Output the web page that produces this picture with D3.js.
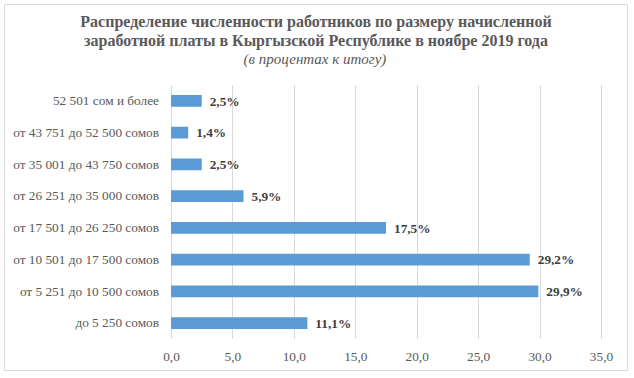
<!DOCTYPE html>
<html>
<head>
<meta charset="utf-8">
<script src="https://cdn.jsdelivr.net/npm/d3@7"></script>
</head>
<body style="margin:0; background:#fff">
<svg id="chart" width="634" height="378"></svg>
<script>
const categories = [
  "52 501 сом и более",
  "от 43 751 до 52 500 сомов",
  "от 35 001 до 43 750 сомов",
  "от 26 251 до 35 000 сомов",
  "от 17 501 до 26 250 сомов",
  "от 10 501 до 17 500 сомов",
  "от 5 251 до 10 500 сомов",
  "до 5 250 сомов"
];
const values = [2.5, 1.4, 2.5, 5.9, 17.5, 29.2, 29.9, 11.1];
const xTicks = [0, 5, 10, 15, 20, 25, 30, 35];
const titleLines = [
  "Распределение численности работников по размеру начисленной",
  "заработной платы в Кыргызской Республике в ноябре 2019 года"
];
const subtitle = "(в процентах к итогу)";

const FONT = "Liberation Serif";
const svg = d3.select("#chart");
const margin = { top: 85, right: 33, bottom: 39, left: 171 };
const width = 634 - margin.left - margin.right;
const height = 378 - margin.top - margin.bottom;
const fmt = v => d3.format(".1f")(v).replace(".", ",");

// outer frame
svg.append("rect")
  .attr("x", 4.5).attr("y", 4.5)
  .attr("width", 623).attr("height", 366)
  .attr("fill", "#fff")
  .attr("stroke", "#d9d9d9");

// title
svg.append("g").selectAll("text")
  .data(titleLines)
  .enter().append("text")
  .attr("x", 316)
  .attr("y", (d, i) => 27 + i * 19)
  .attr("text-anchor", "middle")
  .attr("font-family", FONT)
  .attr("font-size", 16)
  .attr("font-weight", "bold")
  .attr("fill", "#595959")
  .text(d => d);

svg.append("text")
  .attr("x", 315).attr("y", 64)
  .attr("text-anchor", "middle")
  .attr("font-family", FONT)
  .attr("font-size", 15)
  .attr("font-style", "italic")
  .attr("fill", "#595959")
  .text(subtitle);

let x = d3.scaleLinear().domain([0, 35]).range([0, width]);
let y = d3.scaleBand().domain(categories).range([0, height]).paddingInner(0.63).paddingOuter(0.315);

let chart = svg.append("g").attr("transform", "translate(" + margin.left + "," + margin.top + ")");

// gridlines
chart.append("g").selectAll("line")
  .data(xTicks)
  .enter().append("line")
  .attr("x1", d => Math.round(x(d)) + 0.5)
  .attr("x2", d => Math.round(x(d)) + 0.5)
  .attr("y1", 0).attr("y2", height)
  .attr("stroke", "#d9d9d9");

// x axis labels
let xAxis = chart.append("g")
  .attr("transform", "translate(0," + height + ")")
  .call(d3.axisBottom(x).tickValues(xTicks).tickFormat(fmt).tickSize(0).tickPadding(13));
xAxis.select(".domain").remove();
xAxis.selectAll("text")
  .attr("font-family", FONT)
  .attr("font-size", 13.3)
  .attr("fill", "#595959");

// y axis labels
let yAxis = chart.append("g")
  .call(d3.axisLeft(y).tickSize(0).tickPadding(12));
yAxis.select(".domain").remove();
yAxis.selectAll("text")
  .attr("font-family", FONT)
  .attr("font-size", 13.3)
  .attr("fill", "#595959");

// bars
chart.append("g").selectAll("rect")
  .data(values)
  .enter().append("rect")
  .attr("x", 0)
  .attr("y", (d, i) => y(categories[i]))
  .attr("width", d => x(d))
  .attr("height", y.bandwidth())
  .attr("fill", "#5b9bd5");

// value labels
chart.append("g").selectAll("text")
  .data(values)
  .enter().append("text")
  .attr("x", d => x(d) + 8)
  .attr("y", (d, i) => y(categories[i]) + y.bandwidth() / 2)
  .attr("dy", "0.35em")
  .attr("font-family", FONT)
  .attr("font-size", 13.3)
  .attr("font-weight", "bold")
  .attr("fill", "#404040")
  .text(d => fmt(d) + "%");
</script>
</body>
</html>
